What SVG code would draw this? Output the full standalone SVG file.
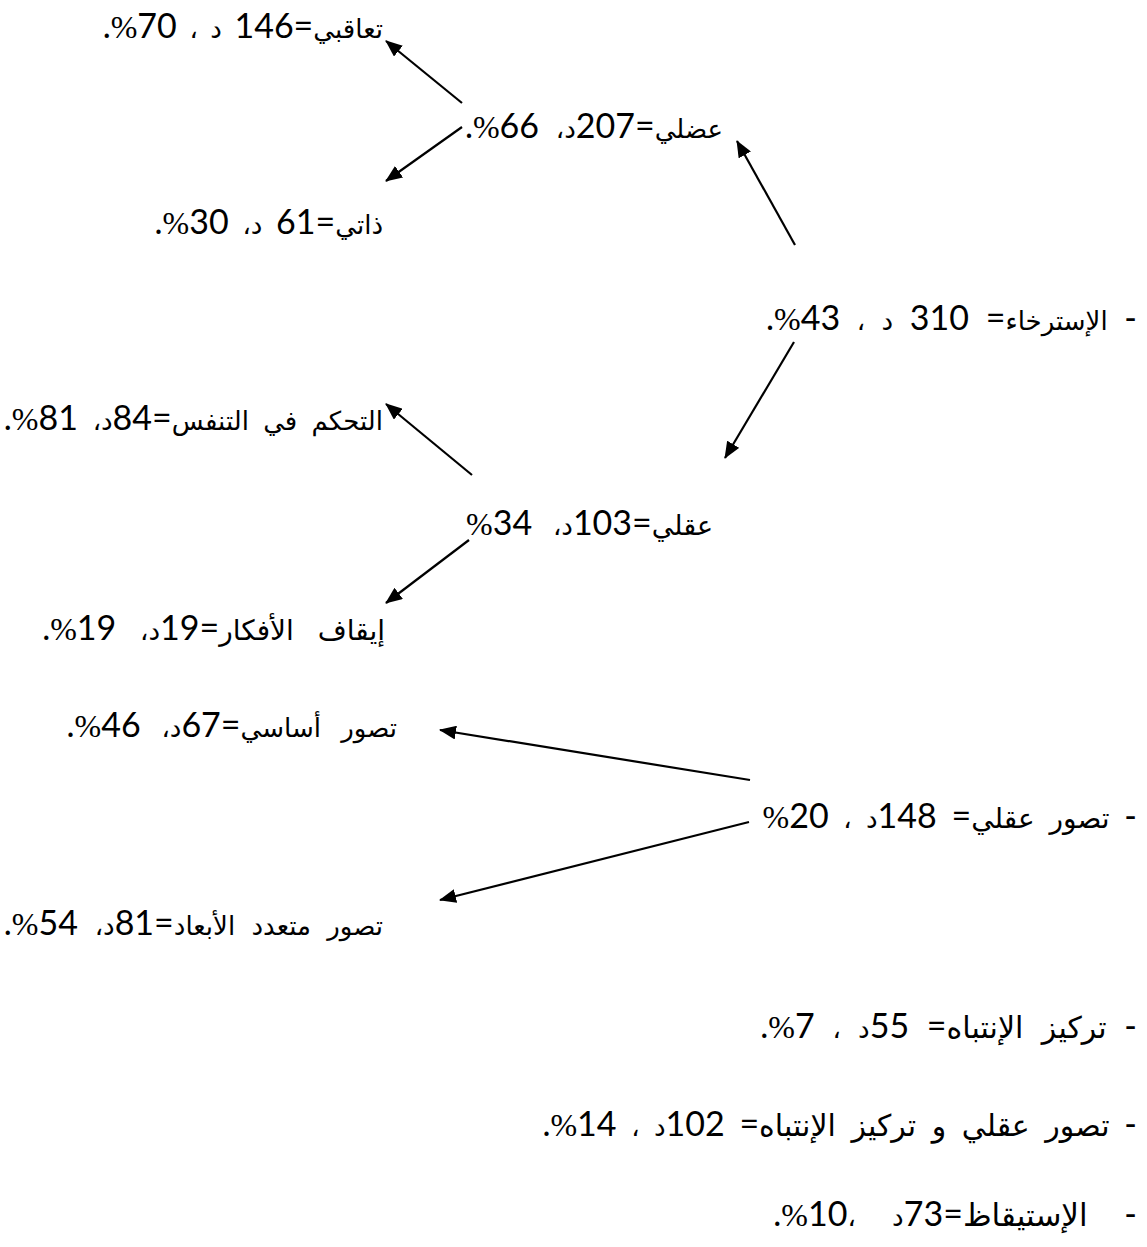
<svg xmlns="http://www.w3.org/2000/svg" width="1147" height="1247" viewBox="0 0 1147 1247">
<style>
text{font-family:Lato,"DejaVu Sans",sans-serif;font-size:34px;fill:#000;direction:rtl;text-anchor:start}
.ar{font-family:"DejaVu Sans",sans-serif;font-size:26px}
.pc{font-family:"Liberation Serif",serif;font-size:32px}
.con line{stroke:#000;stroke-width:2.2;marker-end:url(#ah)}
</style>
<defs>
<marker id="ah" markerUnits="userSpaceOnUse" markerWidth="18" markerHeight="14" refX="16" refY="7" orient="auto"><path d="M0,0 L17,7 L0,14 Z" fill="#000"/></marker>
</defs>
<g id="connectors" class="con">
<line x1="462" y1="103" x2="386" y2="41"/>
<line x1="462" y1="127" x2="386" y2="181"/>
<line x1="795" y1="245" x2="737" y2="141"/>
<line x1="794" y1="342" x2="725" y2="458"/>
<line x1="472" y1="475" x2="386" y2="404"/>
<line x1="469" y1="540" x2="386" y2="603"/>
<line x1="750" y1="780" x2="440" y2="730"/>
<line x1="749" y1="822" x2="440" y2="900"/>
</g>
<g id="n1"><text x="383" y="38" word-spacing="4"><tspan class="ar">تعاقبي</tspan>=146 <tspan class="ar">د ،</tspan> 70<tspan class="pc">%</tspan>.</text></g>
<g id="n2"><text x="723" y="138" word-spacing="8"><tspan class="ar">عضلي</tspan>=207<tspan class="ar">د،</tspan> 66<tspan class="pc">%</tspan>.</text></g>
<g id="n3"><text x="383" y="234" word-spacing="5"><tspan class="ar">ذاتي</tspan>=61 <tspan class="ar">د،</tspan> 30<tspan class="pc">%</tspan>.</text></g>
<g id="n4"><text x="1137" y="330" word-spacing="8">- <tspan class="ar">الإسترخاء</tspan>= 310 <tspan class="ar">د ،</tspan> 43<tspan class="pc">%</tspan>.</text></g>
<g id="n5"><text x="383" y="430" word-spacing="6"><tspan class="ar">التحكم في التنفس</tspan>=84<tspan class="ar">د،</tspan> 81<tspan class="pc">%</tspan>.</text></g>
<g id="n6"><text x="713" y="535" word-spacing="12"><tspan class="ar" style="font-size:27px">عقلي</tspan>=103<tspan class="ar">د،</tspan> 34<tspan class="pc">%</tspan></text></g>
<g id="n7"><text x="385" y="640" word-spacing="15"><tspan class="ar" style="font-size:28px">إيقاف الأفكار</tspan>=19<tspan class="ar">د،</tspan> 19<tspan class="pc">%</tspan>.</text></g>
<g id="n8"><text x="397" y="737" word-spacing="12"><tspan class="ar">تصور أساسي</tspan>=67<tspan class="ar">د،</tspan> 46<tspan class="pc">%</tspan>.</text></g>
<g id="n9"><text x="1137" y="828" word-spacing="6">- <tspan class="ar" style="font-size:28px">تصور عقلي</tspan>= 148<tspan class="ar">د ،</tspan> 20<tspan class="pc">%</tspan></text></g>
<g id="n10"><text x="383" y="935" word-spacing="8"><tspan class="ar">تصور متعدد الأبعاد</tspan>=81<tspan class="ar">د،</tspan> 54<tspan class="pc">%</tspan>.</text></g>
<g id="n11"><text x="1137" y="1038" word-spacing="9">- <tspan class="ar" style="font-size:30px">تركيز الإنتباه</tspan>= 55<tspan class="ar">د ،</tspan> 7<tspan class="pc">%</tspan>.</text></g>
<g id="n12"><text x="1137" y="1136" word-spacing="6">- <tspan class="ar" style="font-size:30px">تصور عقلي و تركيز الإنتباه</tspan>= 102<tspan class="ar">د ،</tspan> 14<tspan class="pc">%</tspan>.</text></g>
<g id="n13"><text x="1137" y="1226" word-spacing="28">- <tspan class="ar" style="font-size:31px">الإستيقاظ</tspan>=73<tspan class="ar">د ،</tspan>10<tspan class="pc">%</tspan>.</text></g>
</svg>
